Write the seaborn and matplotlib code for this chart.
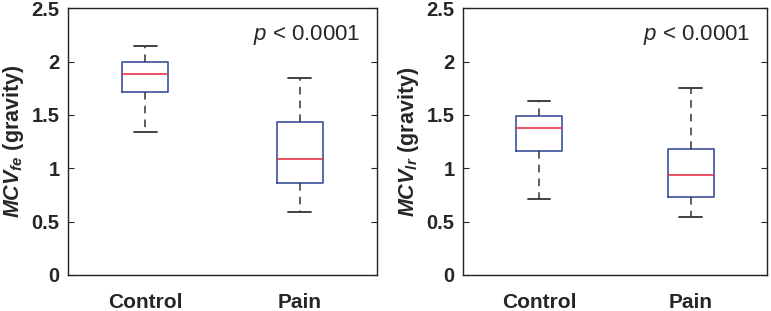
import numpy as np
import pandas as pd
import seaborn as sns
import matplotlib.pyplot as plt

# box summary values: [low whisker, Q1, median, Q3, high whisker]
groups = ['Control', 'Pain']
fe_control = [1.34, 1.71, 1.88, 2.00, 2.15]
fe_pain = [0.59, 0.86, 1.09, 1.43, 1.85]
lr_control = [0.71, 1.16, 1.38, 1.49, 1.63]
lr_pain = [0.54, 0.73, 0.94, 1.18, 1.75]
yticks = [0, 0.5, 1, 1.5, 2, 2.5]
ytick_labels = ['0', '0.5', '1', '1.5', '2', '2.5']
p_text = r'$p$ < 0.0001'

sns.set_style('white')
plt.rcParams['font.family'] = ['Liberation Sans', 'DejaVu Sans']
plt.rcParams['mathtext.fontset'] = 'custom'
plt.rcParams['mathtext.it'] = 'Liberation Sans:italic'
plt.rcParams['mathtext.rm'] = 'Liberation Sans'
plt.rcParams['mathtext.bf'] = 'Liberation Sans:italic:bold'

blue = '#3c4f9c'
red = '#e8344a'

fig = plt.figure(figsize=(7.71, 3.11), dpi=100)
ax1 = fig.add_axes([0.0882, 0.1158, 0.4008, 0.858])
ax2 = fig.add_axes([0.6005, 0.1158, 0.394, 0.858])

panels = [
    (ax1, fe_control, fe_pain, r'$\mathbf{MCV_{fe}}$ (gravity)'),
    (ax2, lr_control, lr_pain, r'$\mathbf{MCV_{lr}}$ (gravity)'),
]

for ax, ctrl, pain, ylab in panels:
    df = pd.DataFrame({'group': [groups[0]] * len(ctrl) + [groups[1]] * len(pain),
                       'value': ctrl + pain})
    sns.boxplot(data=df, x='group', y='value', ax=ax, whis=(0, 100),
                width=0.30, fill=False, showfliers=False,
                boxprops=dict(color=blue, linewidth=1.2),
                medianprops=dict(color=red, linewidth=1.2),
                whiskerprops=dict(color='#333333', linestyle=(0, (5, 4)), linewidth=1.1),
                capprops=dict(color='#333333', linewidth=1.3))

    ax.set_xlim(-0.5, 1.5)
    ax.set_ylim(0, 2.5)
    ax.set_yticks(yticks)
    ax.set_yticklabels(ytick_labels)
    ax.set_xlabel('')
    ax.set_ylabel(ylab, fontsize=15.5, fontweight='bold', labelpad=4)
    ax.tick_params(axis='y', direction='in', length=4, right=True, left=True,
                   labelsize=14.5, pad=6)
    ax.tick_params(axis='x', length=0, labelsize=15, pad=13)
    for lab in ax.get_xticklabels() + ax.get_yticklabels():
        lab.set_fontweight('bold')
    for sp in ax.spines.values():
        sp.set_visible(True)
        sp.set_color('#222222')
        sp.set_linewidth(1.0)
    ax.text(0.945, 0.9, p_text, transform=ax.transAxes, ha='right', va='center',
            fontsize=16)

fig.savefig('out.png', dpi=100)
